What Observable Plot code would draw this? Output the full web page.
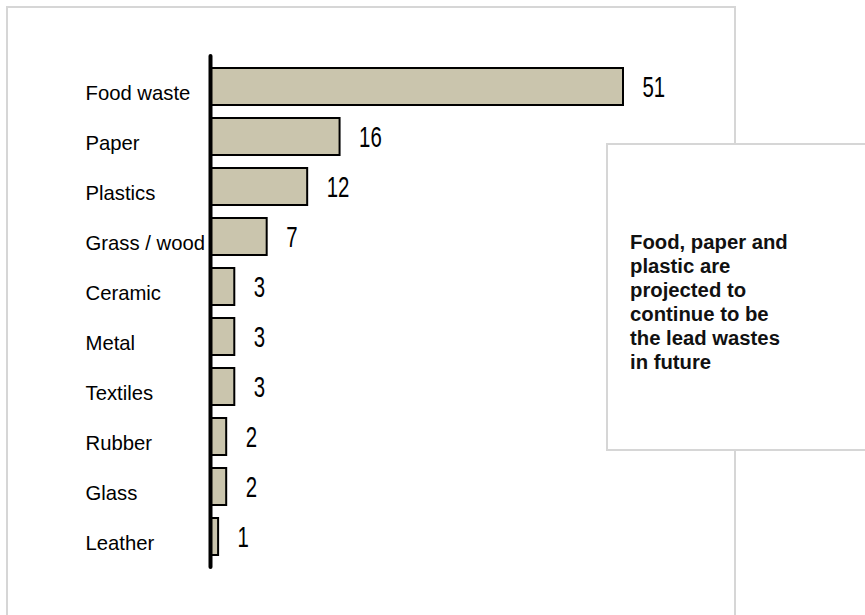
<!DOCTYPE html>
<html>
<head>
<meta charset="utf-8">
<script src="https://cdn.jsdelivr.net/npm/d3@7"></script>
<script src="https://cdn.jsdelivr.net/npm/@observablehq/plot@0.6"></script>
<style>
  html, body { margin: 0; padding: 0; background: #fff; }
  body { width: 865px; height: 615px; overflow: hidden; position: relative; font-family: "Liberation Sans", Arial, sans-serif; }
  #chart { position: absolute; left: 0; top: 0; }
  #frame { position: absolute; left: 6px; top: 6px; width: 726px; height: 700px; border: 2px solid #d6d6d6; border-bottom: none; pointer-events: none; }
  #note { position: absolute; left: 606px; top: 143px; width: 300px; height: 304px; background: #fff; border: 2px solid #d6d6d6; }
  #noteText { position: absolute; left: 630px; top: 230px; font: bold 20.3px/24px "Liberation Sans", Arial, sans-serif; color: #111; }
</style>
</head>
<body>
<div id="chart"></div>
<div id="frame"></div>
<div id="note"></div>
<div id="noteText"></div>
<script>
const categories = ["Food waste", "Paper", "Plastics", "Grass / wood", "Ceramic", "Metal", "Textiles", "Rubber", "Glass", "Leather"];
const values = [51, 16, 12, 7, 3, 3, 3, 2, 2, 1];
const noteLines = ["Food, paper and", "plastic are", "projected to", "continue to be", "the lead wastes", "in future"];

const data = categories.map((c, i) => ({category: c, value: values[i]}));

const chart = Plot.plot({
  width: 865,
  height: 615,
  marginLeft: 210,
  marginRight: 242,
  marginTop: 56,
  marginBottom: 48,
  style: {background: "transparent", fontFamily: "'Liberation Sans', Arial, sans-serif", overflow: "visible"},
  x: {domain: [0, 51], axis: null},
  y: {domain: categories, paddingInner: 0.26, paddingOuter: 0.14, label: null},
  marks: [
    Plot.barX(data, {x: "value", y: "category", fill: "#cac5ad", stroke: "#000", strokeWidth: 2}),
    Plot.ruleX([0], {stroke: "#000", strokeWidth: 4, strokeLinecap: "round"}),
    Plot.axisY({tickSize: 0, tickPadding: 0, textAnchor: "start", dx: -125, dy: 6, fontSize: 20.3, fill: "#000", label: null}),
    Plot.text(data, {x: "value", y: "category", text: d => String(d.value), dx: 19, textAnchor: "start", fontSize: 30, fill: "#000"})
  ]
});
document.getElementById("chart").appendChild(chart);

// condense the value labels horizontally (tall, narrow digits as in the reference)
const s = 0.68;
const groups = chart.querySelectorAll('g[aria-label="text"]');
const valueGroup = groups[groups.length - 1];
if (valueGroup) {
  valueGroup.querySelectorAll("text").forEach(el => {
    const x = el.getAttribute("x");
    if (x != null) el.setAttribute("x", +x / s);
    const t = el.getAttribute("transform") || "";
    el.setAttribute("transform", (t + ` scale(${s},1)`).trim());
  });
}
document.getElementById("noteText").innerHTML = noteLines.join("<br>");
</script>
</body>
</html>
